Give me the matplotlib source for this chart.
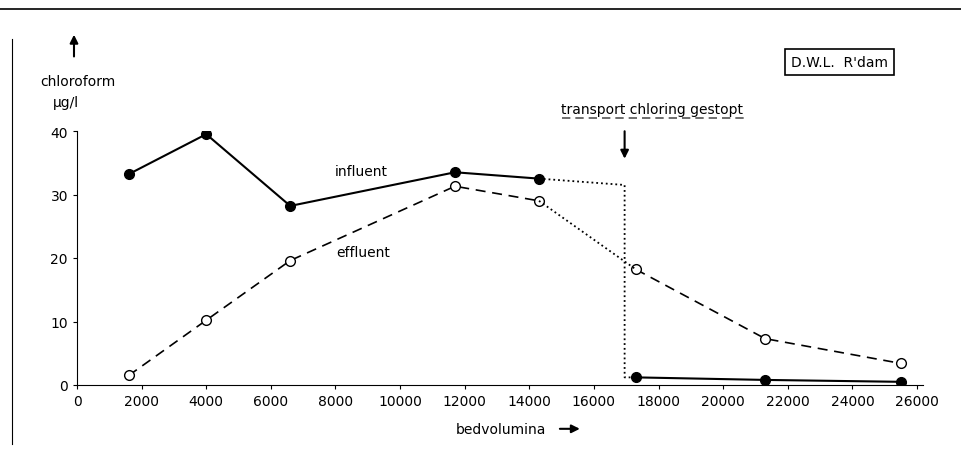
import matplotlib
matplotlib.use("Agg")
import matplotlib.pyplot as plt
from matplotlib.lines import Line2D

plt.rcParams["font.family"] = ["DejaVu Sans"]

# data
bv_before = [1600, 4000, 6600, 11700, 14300]
influent_before = [33.2, 39.5, 28.2, 33.5, 32.5]
effluent_before = [1.5, 10.2, 19.6, 31.3, 29.0]

bv_after = [17300, 21300, 25500]
influent_after = [1.2, 0.8, 0.5]
effluent_after = [18.2, 7.3, 3.4]

stop_bv = 16950   # transport chloring gestopt
stop_level = 31.5

xticks = list(range(0, 26001, 2000))
yticks = [0, 10, 20, 30, 40]

fs = 10

fig = plt.figure(figsize=(9.61, 4.52), dpi=100)
ax = fig.add_axes([77 / 961, 1 - 386 / 452, 840 / 961, 254 / 452])

# influent
ax.plot(bv_before, influent_before, "-", color="black", lw=1.5,
        marker="o", ms=7, mfc="black", mec="black")
ax.plot(bv_after, influent_after, "-", color="black", lw=1.5,
        marker="o", ms=7, mfc="black", mec="black")
# dotted transition of influent
ax.plot([bv_before[-1], stop_bv, stop_bv, bv_after[0]],
        [influent_before[-1], stop_level, influent_after[0], influent_after[0]],
        ":", color="black", lw=1.3)

# effluent
ax.plot(bv_before, effluent_before, "--", color="black", lw=1.2, dashes=(6, 4),
        marker="o", ms=7, mfc="white", mec="black")
ax.plot(bv_after, effluent_after, "--", color="black", lw=1.2, dashes=(6, 4),
        marker="o", ms=7, mfc="white", mec="black")
ax.plot([bv_before[-1], bv_after[0]], [effluent_before[-1], effluent_after[0]],
        ":", color="black", lw=1.3)

ax.text(8790, 33.7, "influent", fontsize=fs, ha="center", va="center")
ax.text(8850, 20.9, "effluent", fontsize=fs, ha="center", va="center")

ax.set_xlim(0, 26000)
ax.set_ylim(0, 40)
ax.set_xticks(xticks)
ax.set_yticks(yticks)
ax.tick_params(labelsize=fs, length=3, width=0.8)
for s in ["top", "right"]:
    ax.spines[s].set_visible(False)
ax.spines["bottom"].set_bounds(0, 26200)

# y label with arrow
ax.text(30, 47.9, "chloroform", fontsize=fs, ha="center", va="center", clip_on=False)
ax.text(-340, 44.6, "µg/l", fontsize=fs, ha="center", va="center", clip_on=False)
ax.annotate("", xy=(-93, 55.6), xytext=(-93, 51.3), annotation_clip=False,
            arrowprops=dict(arrowstyle="-|>", color="black", lw=1.5, mutation_scale=12))

# x label with arrow
ax.text(13130, -6.9, "bedvolumina", fontsize=fs, ha="center", va="center", clip_on=False)
ax.annotate("", xy=(15650, -6.9), xytext=(14860, -6.9), annotation_clip=False,
            arrowprops=dict(arrowstyle="-|>", color="black", lw=1.5, mutation_scale=12))

# event annotation
ax.text(17800, 43.5, "transport chloring gestopt", fontsize=fs, ha="center", va="center",
        clip_on=False)
ax.plot([15000, 20750], [42.0, 42.0], "--", color="#555555", lw=1.2, dashes=(5, 3),
        clip_on=False)
ax.annotate("", xy=(stop_bv, 35.2), xytext=(stop_bv, 40.4), annotation_clip=False,
            arrowprops=dict(arrowstyle="-|>", color="black", lw=1.5, mutation_scale=12))

# location box
ax.text(25100, 50.9, "D.W.L.  R'dam", fontsize=fs, ha="right", va="center", clip_on=False,
        bbox=dict(boxstyle="square,pad=0.45", fc="white", ec="black", lw=1.2))

# page frame
fig.add_artist(Line2D([0.0, 1.0], [1 - 10 / 452, 1 - 10 / 452], color="black", lw=1.2))
fig.add_artist(Line2D([12 / 961, 12 / 961], [1 - 445 / 452, 1 - 40 / 452], color="black", lw=0.8))

fig.savefig("out.png", dpi=100)
